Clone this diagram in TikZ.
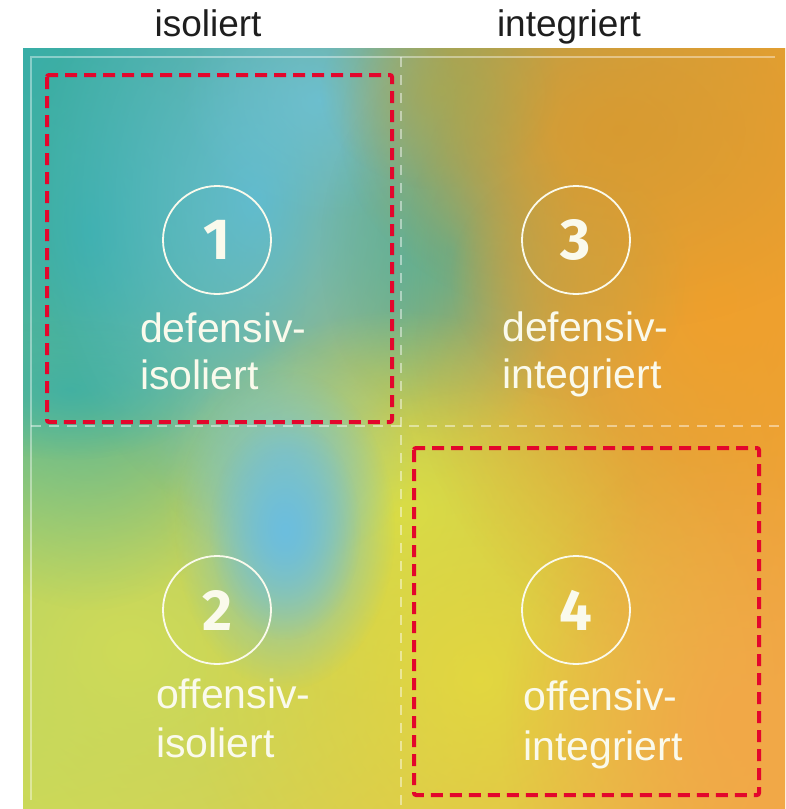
\documentclass[tikz,border=0pt]{standalone}
\usepackage{fontspec}
\setmainfont{Liberation Sans}
\newfontfamily\numfont{Fira Sans}
\usetikzlibrary{fadings,shadings}
\tikzfading[name=fuzzy, inner color=transparent!0, outer color=transparent!100]
\definecolor{cTL}{HTML}{38AEA8}
\definecolor{cTR}{HTML}{E2A034}
\definecolor{cBL}{HTML}{C8D85A}
\definecolor{cBR}{HTML}{F2A945}
\definecolor{redbox}{HTML}{E3062C}
\definecolor{lighttext}{HTML}{FAFAEC}
\definecolor{headtext}{HTML}{1E1E1E}
\newcommand\myblob[5]{\fill[#1, path fading=fuzzy, fill opacity=#5] (#2) ellipse ({2*#3} and {2*#4});}
\tikzset{
  quadtext/.style={anchor=base west, text=lighttext, font=\fontsize{41}{41}\selectfont, inner sep=0pt},
  headlabel/.style={anchor=base, text=headtext, font=\fontsize{37}{37}\selectfont, inner sep=0pt},
  numring/.style={circle, draw=lighttext, line width=1.8pt, minimum size=108pt, inner sep=0pt, text=lighttext, font=\numfont\bfseries\fontsize{58}{58}\selectfont},
  redframe/.style={draw=redbox, line width=4pt, dash pattern=on 12pt off 7pt, rounded corners=2pt},
  divider/.style={draw=white, draw opacity=0.45, line width=1.3pt, dash pattern=on 10pt off 8pt},
}
\begin{document}
\begin{tikzpicture}[x=1pt, y=-1pt]
\useasboundingbox (0,0) rectangle (785,809);
\begin{scope}
\clip (23,48) rectangle (785,809);
\shade[upper left=cTL, upper right=cTR, lower left=cBL, lower right=cBR] (23,48) rectangle (785,809);
\definecolor{yg}{HTML}{CFDB58}\myblob{yg}{130,650}{200}{170}{1}
\myblob{cTL}{90,230}{110}{190}{1}
\myblob{cTL}{70,390}{70}{35}{0.7}
\definecolor{bb}{HTML}{60BDD6}\myblob{bb}{255,200}{110}{160}{0.9}
\definecolor{bc}{HTML}{6CC2D8}\myblob{bc}{320,100}{70}{60}{0.8}
\definecolor{tm}{HTML}{46B0A0}\myblob{tm}{450,250}{65}{95}{0.9}
\definecolor{yc}{HTML}{D4DE4A}\myblob{yc}{400,510}{120}{100}{1}
\definecolor{yb}{HTML}{E4DA3E}\myblob{yb}{480,680}{150}{150}{0.9}
\definecolor{bg}{HTML}{8AC8C6}\myblob{bg}{285,455}{65}{55}{0.6}
\definecolor{bl}{HTML}{6CBEDE}\myblob{bl}{285,530}{55}{80}{1}
\myblob{bl}{285,530}{38}{55}{0.8}
\definecolor{orr}{HTML}{F0A02C}\myblob{orr}{720,300}{160}{190}{1}
\definecolor{ort}{HTML}{D89A30}\myblob{ort}{620,130}{140}{100}{0.9}
\definecolor{orb}{HTML}{F2A848}\myblob{orb}{740,720}{120}{140}{1}
\definecolor{ol}{HTML}{A8A850}\myblob{ol}{440,90}{60}{50}{0.7}
\definecolor{oc}{HTML}{C8A040}\myblob{oc}{570,280}{60}{60}{0.6}
% inner light frame
\draw[white, opacity=0.4, line width=2pt] (31,800) -- (31,57) -- (775,57);
% dividers
\coordinate (vt) at (401,57);
\coordinate (vb) at (401,805);
\coordinate (hl) at (31,426);
\coordinate (hr) at (780,426);
\draw[divider] (vt) -- (vb);
\draw[divider] (hl) -- (hr);
\end{scope}
% headers
\node[headlabel] (h1) at (208,36) {isoliert};
\node[headlabel] (h2) at (569,36) {integriert};
% rings with numbers
\node[numring] (n1) at (217,240) {1};
\node[numring] (n3) at (576,240) {3};
\node[numring] (n2) at (217,610) {2};
\node[numring] (n4) at (576,610) {4};
% quadrant texts
\node[quadtext] (t1a) at (140,342) {defensiv-};
\node[quadtext] (t1b) at (140,389) {isoliert};
\node[quadtext] (t3a) at (502,341) {defensiv-};
\node[quadtext] (t3b) at (502,388) {integriert};
\node[quadtext] (t2a) at (156,708) {offensiv-};
\node[quadtext] (t2b) at (156,757) {isoliert};
\node[quadtext] (t4a) at (523,710) {offensiv-};
\node[quadtext] (t4b) at (523,760) {integriert};
% red dashed frames
\draw[redframe] (47,75) rectangle (392,422);
\draw[redframe] (414,448) rectangle (759,795);
\end{tikzpicture}
\end{document}
